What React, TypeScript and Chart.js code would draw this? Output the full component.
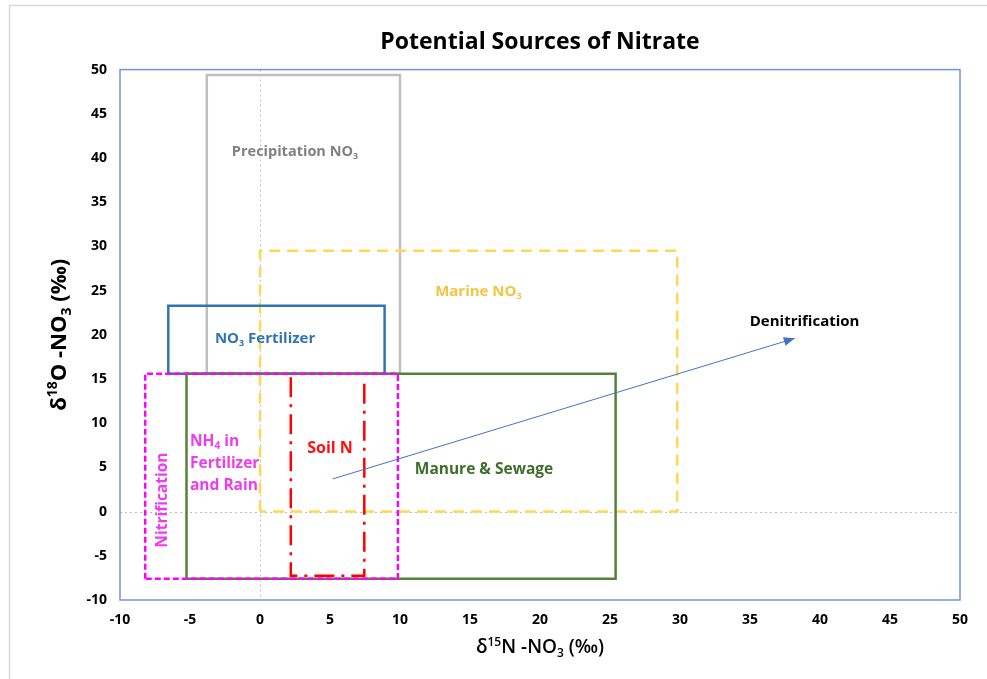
import React, { useEffect, useRef } from "react";
import { Chart, registerables } from "chart.js";

Chart.register(...registerables);

// ---- Data (boxes as [xMin, xMax, yMin, yMax]) ----
const xTicks = [-10, -5, 0, 5, 10, 15, 20, 25, 30, 35, 40, 45, 50];
const yTicks = [-10, -5, 0, 5, 10, 15, 20, 25, 30, 35, 40, 45, 50];
const precipitationBox = [-3.8, 10, 15.6, 49.4];
const marineBox = [0, 29.8, 0, 29.5];
const fertilizerBox = [-6.55, 8.9, 15.6, 23.3];
const manureBox = [-5.25, 25.4, -7.6, 15.6];
const nh4Box = [-8.2, 9.85, -7.6, 15.6];
const soilX = [2.2, 2.2, 7.45, 7.45];
const soilY = [15.2, -7.25, -7.25, 15.2];
const arrowX = [5.2, 38.2];
const arrowY = [3.7, 19.6];

// label anchors in data coordinates
const precipLabelPos = [2.5, 40.7];
const fertLabelPos = [0.36, 19.5];
const marineLabelPos = [15.6, 24.9];
const denitLabelPos = [38.9, 21.5];
const soilLabelPos = [5.0, 7.1];
const manureLabelPos = [16.0, 4.7];
const nh4LabelX = -5.0;
const nh4LabelY = [7.9, 5.4, 2.9];
const nitrifLabelPos = [-6.93, 1.3];

function boxPoints(b: number[]) {
  const [x1, x2, y1, y2] = b;
  return [
    { x: x1, y: y1 },
    { x: x1, y: y2 },
    { x: x2, y: y2 },
    { x: x2, y: y1 },
    { x: x1, y: y1 },
  ];
}

type Seg = { t: string; s?: "sub" | "sup" };

const FAM = "'Open Sans', 'DejaVu Sans', sans-serif";

function drawRich(
  ctx: CanvasRenderingContext2D,
  segs: Seg[],
  x: number,
  y: number,
  size: number,
  weight: string,
  color: string,
  align: "left" | "center",
  family: string = FAM
) {
  const main = `${weight} ${size}px ${family}`;
  const small = `${weight} ${Math.round(size * 0.62)}px ${family}`;
  let w = 0;
  for (const s of segs) {
    ctx.font = s.s ? small : main;
    w += ctx.measureText(s.t).width;
  }
  let cx = align === "center" ? x - w / 2 : x;
  ctx.textAlign = "left";
  ctx.textBaseline = "middle";
  ctx.fillStyle = color;
  for (const s of segs) {
    ctx.font = s.s ? small : main;
    const dy = s.s === "sub" ? size * 0.3 : s.s === "sup" ? -size * 0.3 : 0;
    ctx.fillText(s.t, cx, y + dy);
    cx += ctx.measureText(s.t).width;
  }
}

const decorPlugin = {
  id: "decor",
  beforeDraw(chart: any) {
    const { ctx, chartArea, scales } = chart;
    const xs = scales.x;
    const ys = scales.y;
    ctx.save();
    ctx.fillStyle = "#ffffff";
    ctx.fillRect(0, 0, chart.width, chart.height);
    // outer frame
    ctx.strokeStyle = "#D9D9D9";
    ctx.lineWidth = 1.5;
    ctx.strokeRect(9.5, 5.5, 1100, 800);
    // zero lines
    ctx.strokeStyle = "#BFBFBF";
    ctx.lineWidth = 1;
    ctx.setLineDash([2, 3]);
    const x0 = Math.round(xs.getPixelForValue(0)) + 0.5;
    const y0 = Math.round(ys.getPixelForValue(0)) + 0.5;
    ctx.beginPath();
    ctx.moveTo(x0, chartArea.top);
    ctx.lineTo(x0, chartArea.bottom);
    ctx.moveTo(chartArea.left, y0);
    ctx.lineTo(chartArea.right, y0);
    ctx.stroke();
    ctx.restore();
  },
  afterDraw(chart: any) {
    const { ctx, chartArea, scales } = chart;
    const xs = scales.x;
    const ys = scales.y;
    const px = (v: number) => xs.getPixelForValue(v);
    const py = (v: number) => ys.getPixelForValue(v);
    ctx.save();
    // plot border
    ctx.strokeStyle = "#7096D4";
    ctx.lineWidth = 1.5;
    ctx.strokeRect(chartArea.left, chartArea.top, chartArea.right - chartArea.left, chartArea.bottom - chartArea.top);

    // arrow head
    const ax1 = px(arrowX[0]), ay1 = py(arrowY[0]);
    const ax2 = px(arrowX[1]), ay2 = py(arrowY[1]);
    const ang = Math.atan2(ay2 - ay1, ax2 - ax1);
    const L = 11, W = 4.5;
    ctx.fillStyle = "#4472C4";
    ctx.beginPath();
    ctx.moveTo(ax2, ay2);
    ctx.lineTo(ax2 - L * Math.cos(ang) + W * Math.sin(ang), ay2 - L * Math.sin(ang) - W * Math.cos(ang));
    ctx.lineTo(ax2 - L * Math.cos(ang) - W * Math.sin(ang), ay2 - L * Math.sin(ang) + W * Math.cos(ang));
    ctx.closePath();
    ctx.fill();

    // labels
    const B = "700";
    drawRich(ctx, [{ t: "Precipitation NO" }, { t: "3", s: "sub" }], px(precipLabelPos[0]), py(precipLabelPos[1]), 14.5, B, "#808080", "center");
    drawRich(ctx, [{ t: "NO" }, { t: "3", s: "sub" }, { t: " Fertilizer" }], px(fertLabelPos[0]), py(fertLabelPos[1]), 15, B, "#2E75B6", "center");
    drawRich(ctx, [{ t: "Marine NO" }, { t: "3", s: "sub" }], px(marineLabelPos[0]), py(marineLabelPos[1]), 15, B, "#F5C342", "center");
    drawRich(ctx, [{ t: "Denitrification" }], px(denitLabelPos[0]), py(denitLabelPos[1]), 15, B, "#000000", "center");
    drawRich(ctx, [{ t: "Soil N" }], px(soilLabelPos[0]), py(soilLabelPos[1]), 16, B, "#FF1010", "center");
    drawRich(ctx, [{ t: "Manure & Sewage" }], px(manureLabelPos[0]), py(manureLabelPos[1]), 15.5, B, "#3E6E2A", "center");
    const mag = "#EE3BEE";
    drawRich(ctx, [{ t: "NH" }, { t: "4", s: "sub" }, { t: " in" }], px(nh4LabelX), py(nh4LabelY[0]), 15.5, B, mag, "left");
    drawRich(ctx, [{ t: "Fertilizer" }], px(nh4LabelX), py(nh4LabelY[1]), 15.5, B, mag, "left");
    drawRich(ctx, [{ t: "and Rain" }], px(nh4LabelX), py(nh4LabelY[2]), 15.5, B, mag, "left");
    ctx.save();
    ctx.translate(px(nitrifLabelPos[0]), py(nitrifLabelPos[1]));
    ctx.rotate(-Math.PI / 2);
    drawRich(ctx, [{ t: "Nitrification" }], 0, 0, 15.5, B, mag, "center");
    ctx.restore();

    // axis titles
    const midX = (chartArea.left + chartArea.right) / 2;
    drawRich(ctx, [{ t: "δ" }, { t: "15", s: "sup" }, { t: "N -NO" }, { t: "3", s: "sub" }, { t: " (‰)" }], midX, 648, 19, "600", "#000000", "center");
    const midY = (chartArea.top + chartArea.bottom) / 2;
    ctx.save();
    ctx.translate(60, midY);
    ctx.rotate(-Math.PI / 2);
    drawRich(ctx, [{ t: "δ" }, { t: "18", s: "sup" }, { t: "O -NO" }, { t: "3", s: "sub" }, { t: " (‰)" }], 0, 0, 22, "700", "#000000", "center");
    ctx.restore();
    ctx.restore();
  },
};

export default function App() {
  const ref = useRef<HTMLCanvasElement | null>(null);
  useEffect(() => {
    if (!ref.current) return;
    const line = (label: string, pts: any[], color: string, width: number, dash: number[], order: number) => ({
      label,
      data: pts,
      showLine: true,
      borderColor: color,
      backgroundColor: color,
      borderWidth: width,
      borderDash: dash,
      pointRadius: 0,
      pointHoverRadius: 0,
      fill: false,
      tension: 0,
      order,
      borderJoinStyle: "miter" as const,
    });
    const chart = new Chart(ref.current, {
      type: "scatter",
      data: {
        datasets: [
          line("Precipitation NO3", boxPoints(precipitationBox), "#BFBFBF", 2.5, [], 7),
          line("Marine NO3", boxPoints(marineBox), "#FFD756", 2.5, [11, 7], 6),
          line("NO3 Fertilizer", boxPoints(fertilizerBox), "#2E75B6", 2.5, [], 5),
          line("Manure & Sewage", boxPoints(manureBox), "#548235", 2.5, [], 4),
          line("NH4 in Fertilizer and Rain", boxPoints(nh4Box), "#FF00FF", 2.5, [6, 3], 3),
          line("Soil N", soilX.map((x, i) => ({ x, y: soilY[i] })), "#FF0000", 2.5, [20, 7, 3, 7], 2),
          line("Denitrification", arrowX.map((x, i) => ({ x, y: arrowY[i] })), "#4472C4", 1, [], 1),
        ],
      },
      options: {
        responsive: false,
        animation: false,
        events: [],
        layout: { padding: { top: 0, right: 27, bottom: 0, left: 0 } },
        plugins: {
          legend: { display: false },
          tooltip: { enabled: false },
          title: {
            display: true,
            fullSize: false,
            text: "Potential Sources of Nitrate",
            color: "#000000",
            font: { family: FAM, size: 23, weight: "bold" },
            padding: { top: 29, bottom: 13 },
          },
        },
        scales: {
          x: {
            type: "linear",
            min: -10,
            max: 50,
            afterBuildTicks: (s: any) => {
              s.ticks = xTicks.map((v) => ({ value: v }));
            },
            afterFit: (s: any) => {
              s.height = 79;
            },
            grid: { display: false, drawTicks: false },
            border: { display: false },
            ticks: { color: "#000", padding: 12, font: { family: FAM, size: 14, weight: "700" } },
          },
          y: {
            type: "linear",
            min: -10,
            max: 50,
            afterBuildTicks: (s: any) => {
              s.ticks = yTicks.map((v) => ({ value: v }));
            },
            afterFit: (s: any) => {
              s.width = 120;
            },
            grid: { display: false, drawTicks: false },
            border: { display: false },
            ticks: { color: "#000", padding: 13, font: { family: FAM, size: 14, weight: "700" } },
          },
        },
      },
      plugins: [decorPlugin],
    });
    return () => chart.destroy();
  }, []);
  return (
    <div style={{ position: "fixed", left: 0, top: 0, width: 987, height: 679, background: "#fff" }}>
      <canvas ref={ref} width={987} height={679} style={{ display: "block", width: 987, height: 679 }} />
    </div>
  );
}
